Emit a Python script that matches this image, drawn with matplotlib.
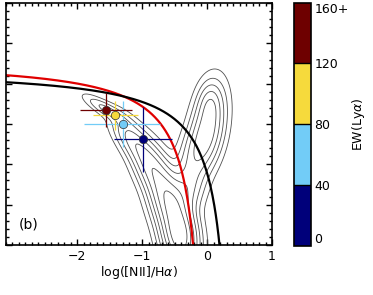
import numpy as np
import matplotlib
matplotlib.use("Agg")
import matplotlib.pyplot as plt
from matplotlib.colors import ListedColormap, BoundaryNorm
from matplotlib.ticker import MultipleLocator

plt.rcParams['font.family'] = ['DejaVu Sans']
plt.rcParams['font.size'] = 9

# stacked points, coloured by EW(Lya) bin
ew_bins = [0, 40, 80, 120, 160]
ew_labels = ['0', '40', '80', '120', '160+']
bin_colors = ['#00007a', '#72ccf7', '#f6da3c', '#6e0000']

pt_x = [-0.99, -1.30, -1.41, -1.55]
pt_y = [0.31, 0.50, 0.61, 0.67]
pt_xerr_lo = [0.45, 0.59, 0.35, 0.41]
pt_xerr_hi = [0.45, 0.58, 0.35, 0.40]
pt_yerr = [0.40, 0.29, 0.18, 0.21]

# SDSS background: blobs used to draw the density contours
comp_x = [-1.55, -1.15, -0.85, -0.6, -0.42, -0.3, -0.15, 0.02, 0.04]
comp_y = [0.68, 0.3, -0.05, -0.45, -0.9, -0.3, 0.15, 0.5, 0.76]
comp_sx = [0.22, 0.25, 0.25, 0.25, 0.25, 0.2, 0.25, 0.3, 0.15]
comp_sy = [0.05, 0.11, 0.14, 0.16, 0.16, 0.15, 0.15, 0.15, 0.1]
comp_rot = [-25, -45, -55, -68, -78, 70, 65, 78, 85]
comp_w = [0.25, 0.4, 0.6, 0.9, 1.3, 0.35, 0.4, 0.6, 0.22]
levels = [0.03, 0.08, 0.15, 0.25, 0.38, 0.55, 0.75]

fig = plt.figure(figsize=(3.73, 2.95), dpi=100)
ax = fig.add_axes([0.0153, 0.1695, 0.714, 0.820])

xx, yy = np.meshgrid(np.linspace(-3.1, 1.0, 400), np.linspace(-1.2, 2.0, 400))
dens = np.zeros_like(xx)
for cx, cy, sx, sy, r, w in zip(comp_x, comp_y, comp_sx, comp_sy, comp_rot, comp_w):
    t = np.radians(r)
    dx, dy = xx - cx, yy - cy
    u = dx * np.cos(t) + dy * np.sin(t)
    v = -dx * np.sin(t) + dy * np.cos(t)
    dens += w * np.exp(-0.5 * (u**2 / sx**2 + v**2 / sy**2))
dens /= dens.max()
ax.contour(xx, yy, dens, levels=levels, colors='#505050', linewidths=0.6)

# Kauffmann (red) and Kewley (black) demarcation lines
xk = np.linspace(-3.2, 0.0, 500)
ax.plot(xk, 0.61 / (xk - 0.05) + 1.3, color='#e00000', lw=1.6)
xw = np.linspace(-3.2, 0.4, 500)
ax.plot(xw, 0.61 / (xw - 0.47) + 1.19, color='black', lw=1.6)

for i in range(len(pt_x)):
    ax.errorbar(pt_x[i], pt_y[i], xerr=[[pt_xerr_lo[i]], [pt_xerr_hi[i]]],
                yerr=pt_yerr[i], fmt='o', color=bin_colors[i], ms=6,
                mec='#333333', mew=0.5, elinewidth=0.9, capsize=0)

ax.text(-2.74, -0.75, '(b)', ha='center', va='center', fontsize=10)

ax.set_xlim(-3.1, 1.0)
ax.set_ylim(-1.0, 2.0)
ax.xaxis.set_major_locator(MultipleLocator(1))
ax.xaxis.set_minor_locator(MultipleLocator(0.1))
ax.yaxis.set_major_locator(MultipleLocator(0.5))
ax.yaxis.set_minor_locator(MultipleLocator(0.1))
ax.tick_params(which='both', direction='in', top=True, right=True, labelleft=False)
ax.tick_params(which='major', length=4, width=1)
ax.tick_params(which='minor', length=2, width=1)
ax.set_xticks([-2, -1, 0, 1])
ax.set_xticklabels(['\u22122', '\u22121', '0', '1'])
for s in ax.spines.values():
    s.set_linewidth(1.2)
ax.set_xlabel('log([NII]/H$\\alpha$)', labelpad=1)

cax = fig.add_axes([0.788, 0.166, 0.047, 0.825])
cmap = ListedColormap(bin_colors)
norm = BoundaryNorm(ew_bins, cmap.N)
cb = fig.colorbar(plt.cm.ScalarMappable(norm=norm, cmap=cmap), cax=cax, ticks=ew_bins)
cb.ax.set_yticklabels(ew_labels)
cb.ax.tick_params(length=0, pad=2)
tl = cb.ax.get_yticklabels()
tl[0].set_va('bottom')
tl[-1].set_va('top')
cb.outline.set_linewidth(1.2)
cb.set_label('EW(Ly$\\alpha$)', labelpad=1)
for b in ew_bins[1:-1]:
    cax.axhline(b, color='black', lw=1.0)

fig.savefig('out.png', dpi=100)
